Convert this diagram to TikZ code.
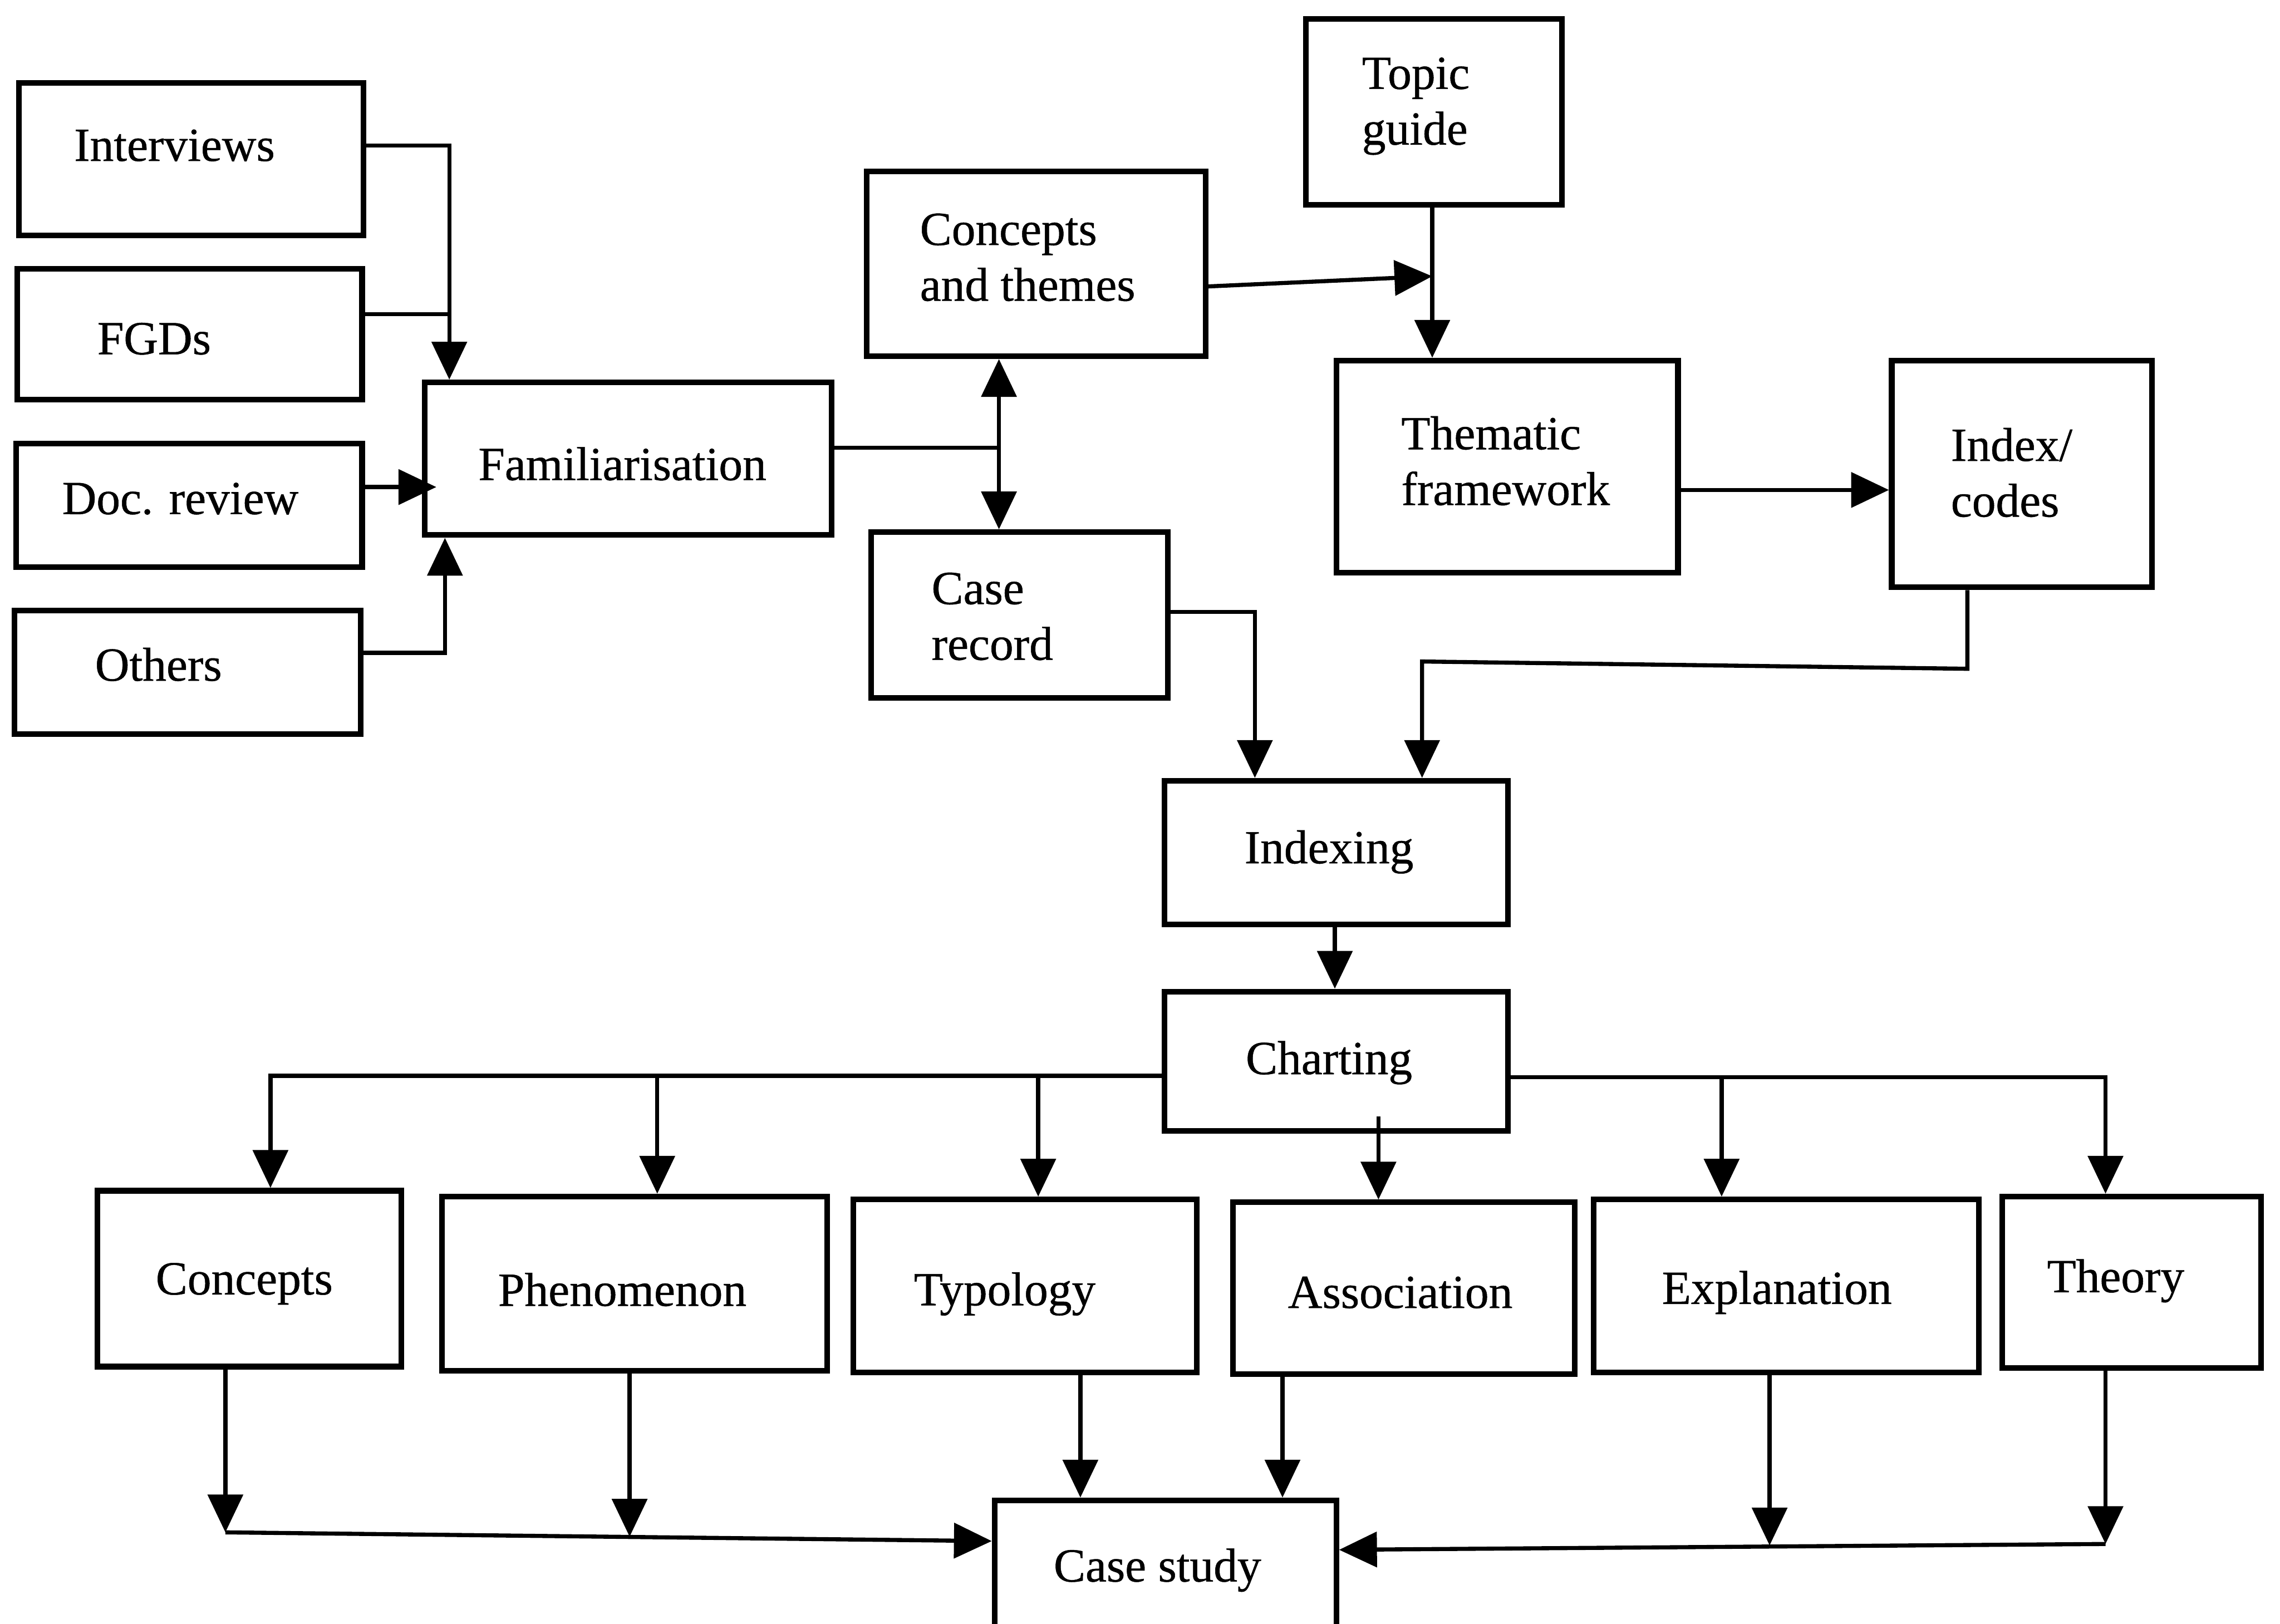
\documentclass[tikz,border=0pt]{standalone}
\usepackage{fontspec}
\setmainfont{Liberation Serif}[FakeBold=0.6]
\usetikzlibrary{arrows.meta,fit}

\tikzset{
  box/.style={draw, line width=1.1pt, inner sep=0pt, rectangle},
  lbl/.style={font=\fontsize{9.3}{10.9}\selectfont, inner sep=0pt, align=left},
  conn/.style={line width=0.8pt},
  arr/.style={conn, -{Triangle[length=0.26cm,width=0.24cm]}},
  darr/.style={conn, {Triangle[length=0.26cm,width=0.24cm]}-{Triangle[length=0.26cm,width=0.24cm]}},
}

\begin{document}
\begin{tikzpicture}[x=0.01cm, y=-0.01cm]
\useasboundingbox (0,0) rectangle (1568,1117);
\clip (0,0) rectangle (1568,1117);

% ---- data sources ----
\node[box, fit={(13,57) (250,162)}] (intv) {};
\node[box, fit={(12,185) (249,275)}] (fgd) {};
\node[box, fit={(11,305) (249,390)}] (doc) {};
\node[box, fit={(10,420) (248,505)}] (oth) {};
\node[lbl] (intv-t) at (120,100) {Interviews};
\node[lbl] (fgd-t) at (106,233) {FGDs};
\node[lbl] (doc-t) at (124,343) {Doc. review};
\node[lbl] (oth-t) at (109,457) {Others};

% ---- familiarisation and framework ----
\node[box, fit={(292,263) (572,368)}] (fam) {};
\node[lbl] (fam-t) at (428,319) {Familiarisation};
\node[box, fit={(596,118) (829,245)}] (ct) {};
\node[lbl, anchor=west] (ct-t) at (632,177) {Concepts\\and themes};
\node[box, fit={(898,13) (1074,141)}] (tg) {};
\node[lbl, anchor=west] (tg-t) at (936,73) {Topic\\guide};
\node[box, fit={(599,366) (803,480)}] (cr) {};
\node[lbl, anchor=west] (cr-t) at (640,424) {Case\\record};
\node[box, fit={(919,248) (1154,394)}] (tf) {};
\node[lbl, anchor=west] (tf-t) at (963,317) {Thematic\\framework};
\node[box, fit={(1301,248) (1480,404)}] (ic) {};
\node[lbl, anchor=west] (ic-t) at (1341,325) {Index/\\codes};

% ---- indexing and charting ----
\node[box, fit={(801,537) (1037,636)}] (idx) {};
\node[lbl] (idx-t) at (914,586) {Indexing};
\node[box, fit={(801,682) (1037,778)}] (ch) {};
\node[lbl] (ch-t) at (914,731) {Charting};

% ---- outputs ----
\node[box, fit={(67,819) (276,940)}] (con) {};
\node[lbl] (con-t) at (168,883) {Concepts};
\node[box, fit={(304,823) (569,943)}] (phe) {};
\node[lbl] (phe-t) at (428,887) {Phenomenon};
\node[box, fit={(587,825) (823,944)}] (typ) {};
\node[lbl] (typ-t) at (691,890) {Typology};
\node[box, fit={(848,827) (1083,945)}] (ass) {};
\node[lbl] (ass-t) at (963,889) {Association};
\node[box, fit={(1096,825) (1361,944)}] (exp) {};
\node[lbl] (exp-t) at (1222,889) {Explanation};
\node[box, fit={(1377,823) (1555,941)}] (the) {};
\node[lbl] (the-t) at (1455,881) {Theory};
\node[box, fit={(684,1032) (919,1140)}] (cs) {};
\node[lbl] (cs-t) at (796,1080) {Case study};

% ---- junction points ----
\coordinate (tgj) at (985,190);
\coordinate (famj) at (687,308);
\coordinate (icj) at (1353,460);
\coordinate (idxj) at (978,455);
\coordinate (lj) at (155,1054);
\coordinate (pj) at (433,1057);
\coordinate (rj) at (1448,1062);
\coordinate (ej) at (1217,1063);

% ---- connectors: sources to familiarisation ----
\draw[arr] (intv.east |- 0,100) -| (fam.north -| 309,0);
\draw[conn] (fgd.east |- 0,216) -- (309,216);
\draw[arr] (doc.east |- 0,335) -- ([xshift=0.1cm]fam.west |- 0,335);
\draw[arr] (oth.east |- 0,449) -| (fam.south -| 306,0);

% ---- familiarisation to themes and case record ----
\draw[conn] (fam.east |- famj) -- (famj);
\draw[darr] (ct.south -| famj) -- (cr.north -| famj);
\draw[arr] (ct.east |- 0,197) -- (tgj);
\draw[arr] (tg.south -| tgj) -- (tf.north -| tgj);
\draw[arr] (tf.east |- 0,337) -- (ic.west |- 0,337);

% ---- into indexing ----
\draw[arr] (ic.south -| icj) -- (icj) -- (idxj) -- (idx.north -| idxj);
\draw[arr] (cr.east |- 0,421) -| (idx.north -| 863,0);
\draw[arr] (idx.south -| 918,0) -- (ch.north -| 918,0);

% ---- charting to outputs ----
\draw[arr] (ch.west |- 0,740) -| (con.north -| 186,0);
\draw[arr] (452,740) -- (phe.north -| 452,0);
\draw[arr] (714,740) -- (typ.north -| 714,0);
\draw[arr] (ch.east |- 0,741) -| (the.north -| 1448,0);
\draw[arr] (1184,741) -- (exp.north -| 1184,0);
\draw[arr] (948,768) -- (ass.north -| 948,0);

% ---- outputs to case study ----
\draw[arr] (con.south -| lj) -- (lj);
\draw[arr] (phe.south -| pj) -- (pj);
\draw[arr] (lj) -- (cs.west |- 0,1060);
\draw[arr] (typ.south -| 743,0) -- (cs.north -| 743,0);
\draw[arr] (ass.south -| 882,0) -- (cs.north -| 882,0);
\draw[arr] (exp.south -| ej) -- (ej);
\draw[arr] (the.south -| rj) -- (rj);
\draw[arr] (rj) -- (cs.east |- 0,1066);
\end{tikzpicture}
\end{document}
